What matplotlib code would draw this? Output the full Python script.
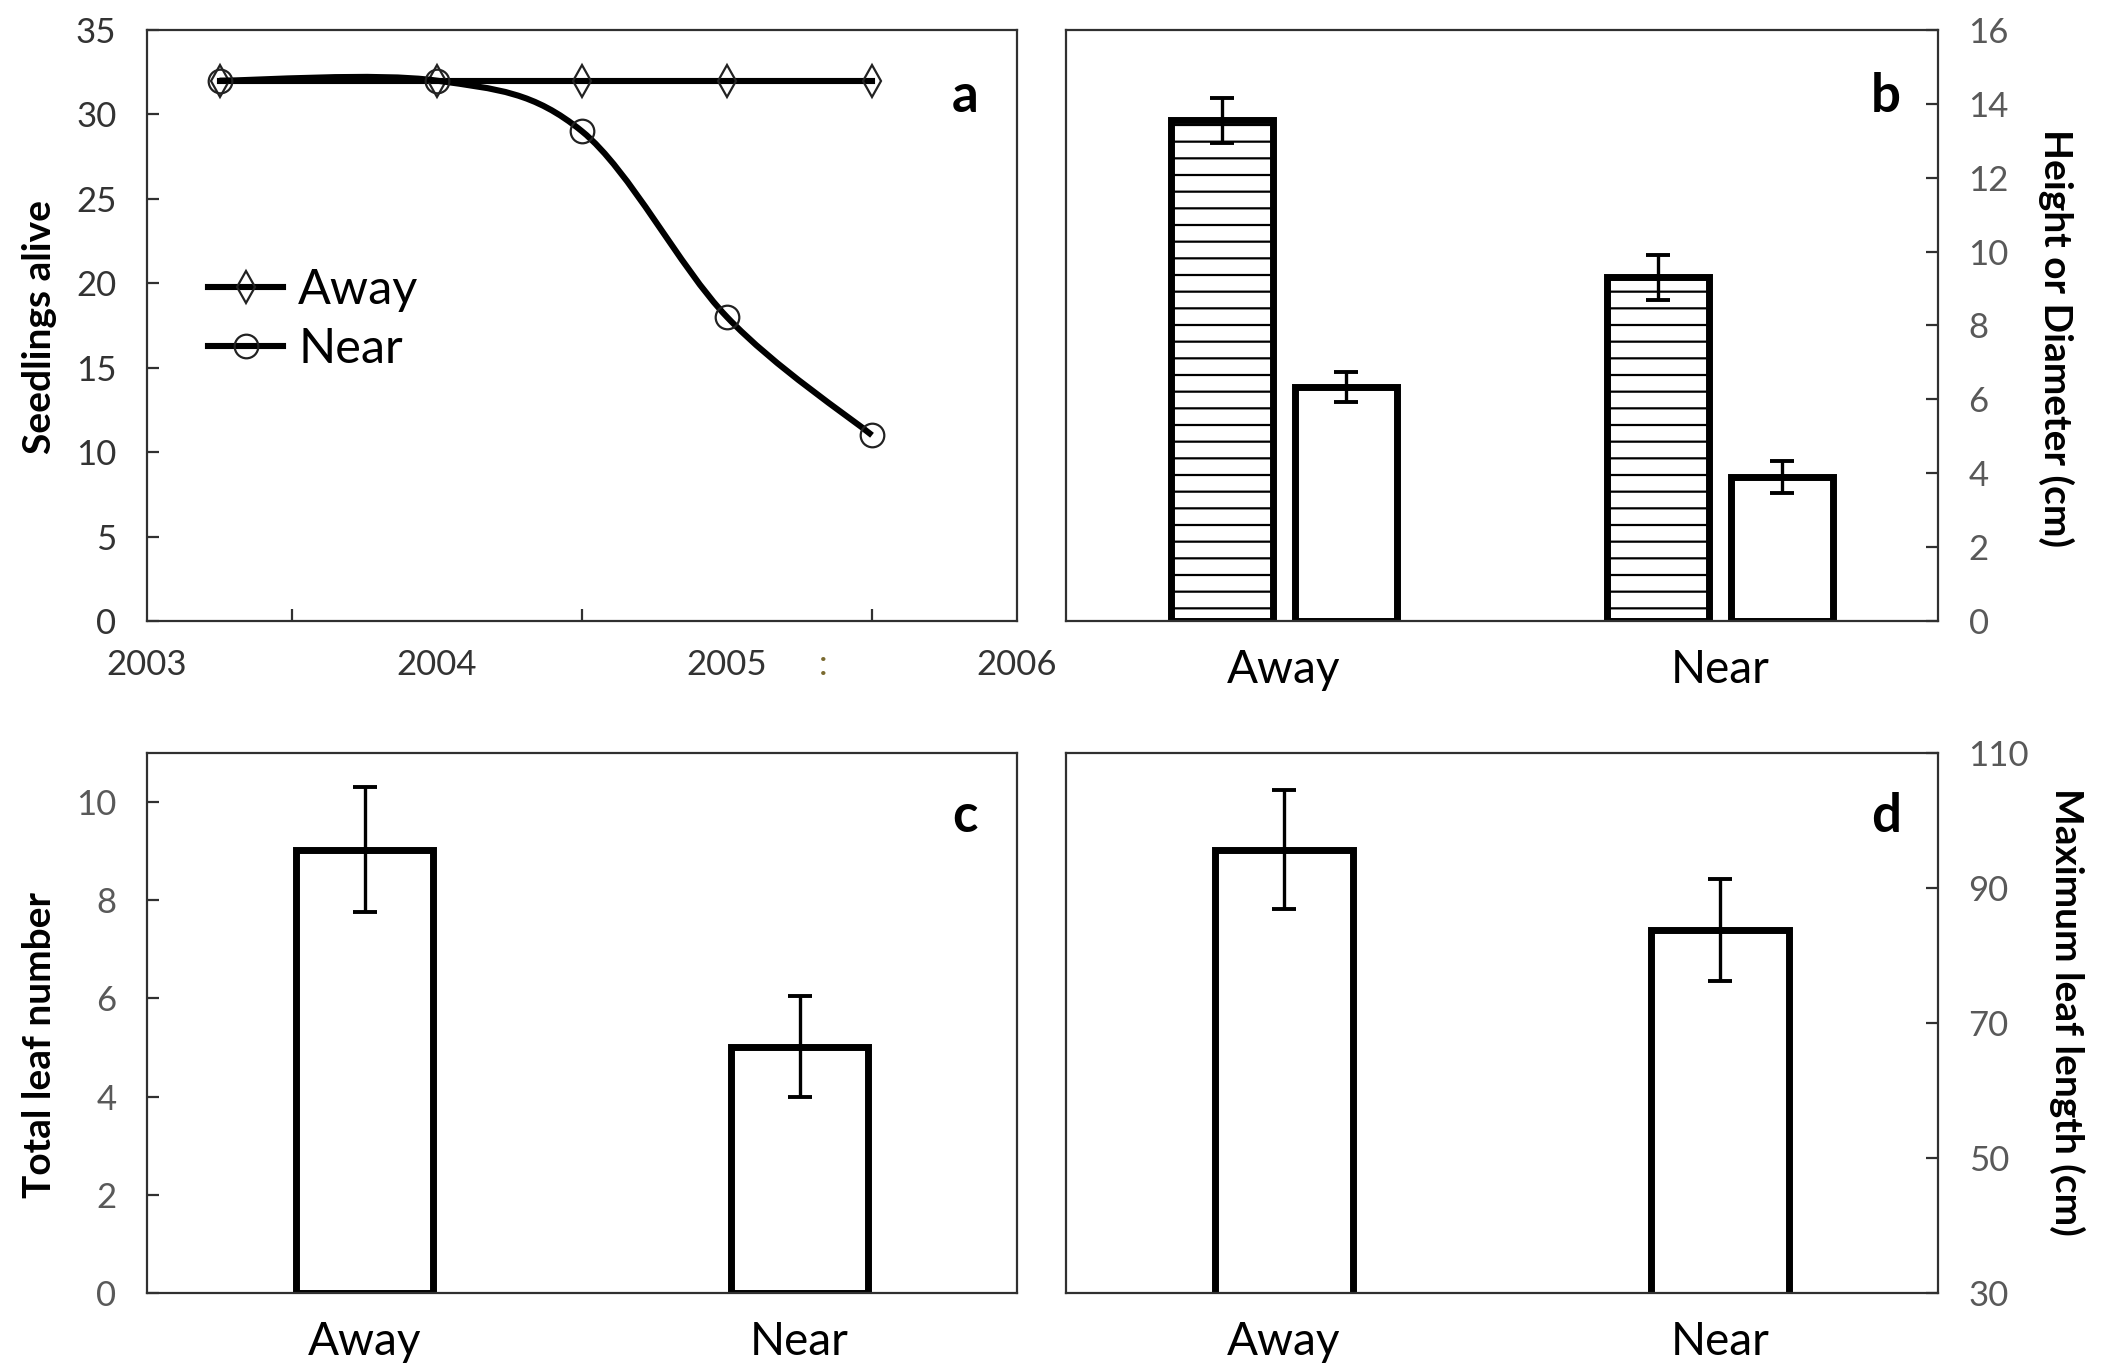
import numpy as np
import matplotlib
matplotlib.use("Agg")
import matplotlib.pyplot as plt
from matplotlib.path import Path
from matplotlib.patches import PathPatch
from matplotlib.lines import Line2D
import matplotlib.transforms as mtransforms

plt.rcParams['font.family'] = ['Lato', 'DejaVu Sans']
plt.rcParams['hatch.linewidth'] = 0.8

# panel a: seedlings alive over time
years = [2003.25, 2004.0, 2004.5, 2005.0, 2005.5]
away_alive = [32, 32, 32, 32, 32]
near_alive = [32, 32, 29, 18, 11]

# panel b: height (hatched) and diameter (open)
groups = ['Away', 'Near']
height = [13.55, 9.3]
height_err = [0.62, 0.6]
diameter = [6.33, 3.9]
diameter_err = [0.4, 0.43]

# panel c: total leaf number
leaf_num = [9.03, 5.02]
leaf_num_err = [1.27, 1.03]

# panel d: maximum leaf length (cm)
leaf_len = [95.7, 83.8]
leaf_len_err = [8.75, 7.6]

tick_grey = '#595959'
spine_col = '#303030'
tick_fs = 12.5
cat_fs = 16.5
lab_fs = 14

fig = plt.figure(figsize=(10.515, 6.86), dpi=200)
W, H = 2103, 1372
def add_ax(l, r, t, b):
    return fig.add_axes([l / W, 1 - b / H, (r - l) / W, (b - t) / H])

ax_a = add_ax(147, 1017, 30, 621)
ax_b = add_ax(1066, 1938, 30, 621)
ax_c = add_ax(147, 1017, 753, 1293)
ax_d = add_ax(1066, 1938, 753, 1293)

for ax in (ax_a, ax_b, ax_c, ax_d):
    for s in ax.spines.values():
        s.set_color(spine_col)
        s.set_linewidth(0.8)

def smooth_path(xs, ys):
    # excel-like smoothed line (catmull-rom as cubic bezier)
    pts = np.column_stack([xs, ys]).astype(float)
    n = len(pts)
    verts = [pts[0]]
    codes = [Path.MOVETO]
    for i in range(n - 1):
        p0 = pts[max(i - 1, 0)]
        p1 = pts[i]
        p2 = pts[i + 1]
        p3 = pts[min(i + 2, n - 1)]
        c1 = p1 + (p2 - p0) / 6.0
        c2 = p2 - (p3 - p1) / 6.0
        verts += [c1, c2, p2]
        codes += [Path.CURVE4] * 3
    return Path(verts, codes)

# ---- panel a
lw_a = 2.2
ax_a.plot(years, away_alive, color='black', lw=lw_a, marker='d', ms=8,
          mfc='none', mec='#222222', mew=0.8, zorder=3)
ax_a.add_patch(PathPatch(smooth_path(years, near_alive), fc='none',
                         ec='black', lw=lw_a, zorder=3))
ax_a.plot(years, near_alive, ls='none', marker='o', ms=8.5, mfc='none',
          mec='#222222', mew=0.8, zorder=4)
ax_a.set_xlim(2003, 2006)
ax_a.set_ylim(0, 35)
ax_a.set_yticks(np.arange(0, 36, 5))
ax_a.set_xticks([2003, 2004, 2005, 2006])
ax_a.set_xticks([2003.5, 2004, 2004.5, 2005, 2005.5], minor=True)
ax_a.tick_params(axis='x', which='major', length=0, pad=10,
                 labelsize=tick_fs, labelcolor='#333333')
ax_a.tick_params(axis='x', which='minor', direction='in', length=4.2,
                 width=0.8, color=spine_col)
ax_a.tick_params(axis='y', direction='in', length=4.2, width=0.8,
                 color=spine_col, pad=11, labelsize=tick_fs,
                 labelcolor='#333333')
ax_a.set_ylabel('Seedlings alive', fontsize=lab_fs, fontweight='bold',
                va='center')
ax_a.yaxis.set_label_coords(-0.123, 0.497)
trans = mtransforms.blended_transform_factory(ax_a.transData, ax_a.transAxes)
ax_a.text(2005.33, -0.075, ':', transform=trans, ha='center', va='center',
          fontsize=tick_fs, color='#7a6a30', clip_on=False)
handles = [Line2D([], [], color='black', lw=lw_a, marker='d', ms=8,
                  mfc='none', mec='#222222', mew=0.8),
           Line2D([], [], color='black', lw=lw_a, marker='o', ms=8.5,
                  mfc='none', mec='#222222', mew=0.8)]
ax_a.legend(handles, ['Away', 'Near'], loc='center left',
            bbox_to_anchor=(0.02, 0.51), frameon=False, fontsize=17.5,
            handlelength=1.55, handletextpad=0.3, labelspacing=0.3)
ax_a.text(0.94, 0.887, 'a', transform=ax_a.transAxes, fontsize=19,
          fontweight='bold', ha='center', va='center')

# ---- panel b
x = np.arange(len(groups))
bw = 0.233
off = 0.142
err_kw = dict(ecolor='black', elinewidth=1.2, capsize=4.2, capthick=1.4)
ax_b.bar(x - off, height, bw, yerr=height_err, color='white',
         edgecolor='black', linewidth=2.5, hatch='--', error_kw=err_kw)
ax_b.bar(x + off, diameter, bw, yerr=diameter_err, color='white',
         edgecolor='black', linewidth=2.5, error_kw=err_kw)
ax_b.set_xlim(-0.5, 1.5)
ax_b.set_ylim(0, 16)
ax_b.set_yticks(np.arange(0, 17, 2))
ax_b.yaxis.tick_right()
ax_b.yaxis.set_label_position('right')
ax_b.set_xticks(x)
ax_b.set_xticklabels(groups)
ax_b.tick_params(axis='x', length=0, pad=10, labelsize=cat_fs)
ax_b.tick_params(axis='y', direction='in', length=4.2, width=0.8,
                 color=spine_col, pad=11, labelsize=tick_fs,
                 labelcolor=tick_grey)
ax_b.set_ylabel('Height or Diameter (cm)', fontsize=lab_fs,
                fontweight='bold', rotation=270, va='center')
ax_b.yaxis.set_label_coords(1.136, 0.479)
ax_b.text(0.94, 0.887, 'b', transform=ax_b.transAxes, fontsize=19,
          fontweight='bold', ha='center', va='center')

# ---- panel c
bw2 = 0.317
ax_c.bar(x, leaf_num, bw2, yerr=leaf_num_err, color='white',
         edgecolor='black', linewidth=2.5, error_kw=err_kw)
ax_c.set_xlim(-0.5, 1.5)
ax_c.set_ylim(0, 11)
ax_c.set_yticks(np.arange(0, 11, 2))
ax_c.set_xticks(x)
ax_c.set_xticklabels(groups)
ax_c.tick_params(axis='x', length=0, pad=10, labelsize=cat_fs)
ax_c.tick_params(axis='y', direction='in', length=4.2, width=0.8,
                 color=spine_col, pad=11, labelsize=tick_fs,
                 labelcolor=tick_grey)
ax_c.set_ylabel('Total leaf number', fontsize=lab_fs, fontweight='bold',
                va='center')
ax_c.yaxis.set_label_coords(-0.123, 0.46)
ax_c.text(0.94, 0.883, 'c', transform=ax_c.transAxes, fontsize=19,
          fontweight='bold', ha='center', va='center')

# ---- panel d
ax_d.bar(x, leaf_len, bw2, yerr=leaf_len_err, color='white',
         edgecolor='black', linewidth=2.5, error_kw=err_kw)
ax_d.set_xlim(-0.5, 1.5)
ax_d.set_ylim(30, 110)
ax_d.set_yticks(np.arange(30, 111, 20))
ax_d.yaxis.tick_right()
ax_d.yaxis.set_label_position('right')
ax_d.set_xticks(x)
ax_d.set_xticklabels(groups)
ax_d.tick_params(axis='x', length=0, pad=10, labelsize=cat_fs)
ax_d.tick_params(axis='y', direction='in', length=4.2, width=0.8,
                 color=spine_col, pad=11, labelsize=tick_fs,
                 labelcolor=tick_grey)
ax_d.set_ylabel('Maximum leaf length (cm)', fontsize=lab_fs,
                fontweight='bold', rotation=270, va='center')
ax_d.yaxis.set_label_coords(1.148, 0.52)
ax_d.text(0.94, 0.883, 'd', transform=ax_d.transAxes, fontsize=19,
          fontweight='bold', ha='center', va='center')

fig.savefig('out.png', dpi=200)
